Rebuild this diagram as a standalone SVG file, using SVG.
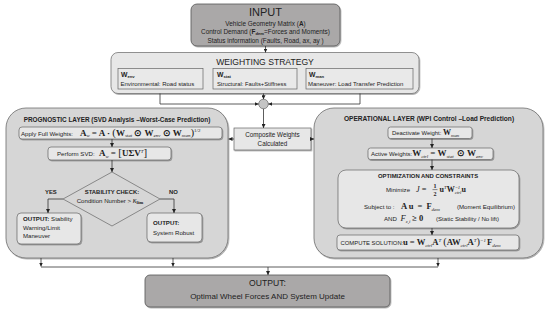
<svg xmlns="http://www.w3.org/2000/svg" width="550" height="312" viewBox="0 0 550 312">
<defs>
<marker id="ah" viewBox="0 0 6 6" refX="6" refY="3" markerWidth="4" markerHeight="4" orient="auto" markerUnits="userSpaceOnUse"><path d="M0,0 L6,3 L0,6 z" fill="#222"/></marker>
<filter id="sh" x="-10%" y="-10%" width="120%" height="130%"><feDropShadow dx="0.8" dy="1" stdDeviation="0.7" flood-color="#000" flood-opacity="0.35"/></filter>
</defs>
<style>
.dark{fill:#aaa8a8;stroke:#555;stroke-width:0.8;filter:url(#sh)}
.panel{fill:#d6d6d6;stroke:#6e6e6e;stroke-width:0.8;filter:url(#sh)}
.light{fill:#e7e7e7;stroke:#666;stroke-width:0.7;filter:url(#sh)}
.inner{fill:#e9e9e9;stroke:#666;stroke-width:0.7}
.t{font-family:"Liberation Sans",Arial,sans-serif;fill:#222}
.b{font-weight:bold}
.mid{text-anchor:middle}
.m{font-family:"Liberation Serif","Times New Roman",serif;font-weight:bold;fill:#222}
.s{font-weight:normal;font-style:italic}
.c{fill:none;stroke:#333;stroke-width:0.8}
.ca{fill:none;stroke:#333;stroke-width:0.8;marker-end:url(#ah)}
</style>
<rect width="550" height="312" fill="#fff"/>

<g id="input">
<rect class="dark" x="191" y="4" width="149" height="42" rx="6"/>
<text class="t mid" x="265.5" y="16" font-size="11">INPUT</text>
<text class="t mid" x="265.5" y="25.5" font-size="6.4">Vehicle Geometry Matrix  (<tspan class="b">A</tspan>)</text>
<text class="t mid" x="265.5" y="34.2" font-size="6.4">Control Demand (<tspan class="b">F<tspan font-size="4.2" dy="1">dem</tspan></tspan><tspan dy="-1">=Forces and Moments)</tspan></text>
<text class="t mid" x="265.5" y="43" font-size="6.4">Status information (Faults, Road, ax, ay )</text>
</g>

<g id="weighting">
<rect class="light" x="111" y="52.5" width="308" height="41" rx="7"/>
<text class="t mid" x="265" y="64.5" font-size="8.6">WEIGHTING STRATEGY</text>
</g>
<g id="w-env">
<rect class="inner" x="118" y="68.5" width="85" height="20.5"/>
<text class="t b" x="121" y="76.5" font-size="6.8">W<tspan font-size="4.2" dy="1">env</tspan></text>
<text class="t" x="120.5" y="86" font-size="6">Environmental: Road status</text>
</g>
<g id="w-stat">
<rect class="inner" x="213" y="68.5" width="84" height="20.5"/>
<text class="t b" x="217" y="76.5" font-size="6.8">W<tspan font-size="4.2" dy="1">stat</tspan></text>
<text class="t" x="217" y="86" font-size="5.8">Structural: Faults+Stiffness</text>
</g>
<g id="w-man">
<rect class="inner" x="306" y="68.5" width="107" height="20.5"/>
<text class="t b" x="309" y="76.5" font-size="6.8">W<tspan font-size="4.2" dy="1">man</tspan></text>
<text class="t" x="308" y="86" font-size="6">Maneuver: Load Transfer Prediction</text>
</g>

<g id="sum">
<circle cx="263.5" cy="104" r="4.8" fill="#c4c4c4" stroke="#666" stroke-width="0.7"/>
</g>

<g id="composite">
<rect class="light" x="234" y="128" width="77" height="22"/>
<text class="t mid" x="272.5" y="137" font-size="6.3">Composite Weights</text>
<text class="t mid" x="272.5" y="146" font-size="6.3">Calculated</text>
</g>

<g id="prognostic">
<rect class="panel" x="6" y="108" width="222" height="150" rx="20"/>
<text class="t b mid" x="117" y="122" font-size="6.4">PROGNOSTIC LAYER (SVD Analysis –Worst-Case Prediction)</text>
</g>
<g id="apply">
<rect class="light" x="19" y="127" width="203" height="12" rx="3"/>
<text class="t" x="21" y="135.7" font-size="6.1">Apply Full Weights:</text>
<text class="m" x="80" y="135.7" font-size="9">A<tspan class="s" font-size="5" dy="1.5">w</tspan><tspan dy="-1.5" dx="2">= A · </tspan><tspan font-size="11" font-weight="normal">(</tspan>W<tspan class="s" font-size="5" dy="1.5">stat</tspan><tspan dy="-1.5"> ⊙ </tspan>W<tspan class="s" font-size="5" dy="1.5">env</tspan><tspan dy="-1.5"> ⊙ </tspan>W<tspan class="s" font-size="5" dy="1.5">man</tspan><tspan dy="-1.5" font-size="11" font-weight="normal">)</tspan><tspan font-size="5" font-weight="normal" dy="-3.8">1/2</tspan></text>
</g>
<g id="svd">
<rect class="light" x="48" y="147" width="123" height="13" rx="3"/>
<text class="t" x="57" y="156.2" font-size="6.1">Perform SVD:</text>
<text class="m" x="99" y="156.2" font-size="9">A<tspan class="s" font-size="5" dy="1.5">w</tspan><tspan dy="-1.5" dx="2">= </tspan><tspan font-size="11" font-weight="normal">[</tspan>UΣV<tspan font-size="5" class="s" dy="-3.4">T</tspan><tspan dy="3.4" font-size="11" font-weight="normal">]</tspan></text>
</g>
<g id="stability">
<polygon points="112,172 160,199 112,226 63,199" fill="#d6d6d6" stroke="#666" stroke-width="0.7"/>
<text class="t b mid" x="112" y="194" font-size="5.9">STABILITY CHECK:</text>
<text class="t mid" x="110" y="203" font-size="6.1">Condition Number &gt; <tspan class="m s" font-size="8">κ</tspan><tspan class="m" font-size="4.8" dy="1">lim</tspan></text>
</g>
<g id="out-warning">
<rect class="light" x="17" y="213" width="64" height="31" rx="4"/>
<text class="t" x="23" y="221" font-size="6.1"><tspan class="b">OUTPUT:</tspan> Stability</text>
<text class="t" x="23" y="229.5" font-size="6.1">Warning/Limit</text>
<text class="t" x="23" y="238" font-size="6.1">Maneuver</text>
</g>
<g id="out-robust">
<rect class="light" x="147" y="213" width="55" height="29" rx="4"/>
<text class="t b" x="153" y="225" font-size="6.1">OUTPUT:</text>
<text class="t" x="153" y="235" font-size="6.1">System Robust</text>
</g>

<g id="operational">
<rect class="panel" x="314" y="108" width="229" height="150" rx="20"/>
<text class="t b mid" x="429" y="121" font-size="6.6">OPERATIONAL LAYER (WPI Control –Load Prediction)</text>
</g>
<g id="deactivate">
<rect class="light" x="388" y="127" width="84" height="11.5" rx="2.5"/>
<text class="t" x="392" y="135.2" font-size="5.9">Deactivate Weight: <tspan class="m" font-size="8">W</tspan><tspan class="m s" font-size="4.8" dy="1.5">man</tspan></text>
</g>
<g id="active">
<rect class="light" x="368" y="148" width="125" height="11.5" rx="2.5"/>
<text class="t" x="371" y="156.3" font-size="6">Active Weights:<tspan class="m" font-size="9">W</tspan><tspan class="m s" font-size="5" dy="1.5">ctrl</tspan><tspan class="m" font-size="9" dy="-1.5" dx="2">= W</tspan><tspan class="m s" font-size="5" dy="1.5">stat</tspan><tspan class="m" font-size="9" dy="-1.5" dx="1"> ⊙ W</tspan><tspan class="m s" font-size="5" dy="1.5">env</tspan></text>
</g>
<g id="optimization">
<rect class="light" x="338" y="170" width="181" height="58" rx="8"/>
<text class="t b mid" x="428" y="178" font-size="5.9">OPTIMIZATION AND CONSTRAINTS</text>
<text class="t" x="386" y="192" font-size="6.1">Minimize</text>
<text class="m" x="416" y="192" font-size="8.3"><tspan class="s">J</tspan> =</text>
<text class="m" x="435" y="188" font-size="6" text-anchor="middle">1</text>
<line x1="432.5" y1="189.6" x2="437.5" y2="189.6" stroke="#222" stroke-width="0.5"/>
<text class="m" x="435" y="195.6" font-size="6" text-anchor="middle">2</text>
<text class="m" x="439.5" y="192" font-size="8">u<tspan class="s" font-size="4.8" dy="-3">T</tspan><tspan dy="3">W</tspan><tspan class="s" font-size="4.8" dy="-3.2">−1</tspan><tspan class="s" font-size="4.8" dx="-5.5" dy="5.5">ctrl</tspan><tspan dy="-2.3">u</tspan></text>
<text class="t" x="364" y="209" font-size="6.1">Subject to :</text>
<text class="m" x="401" y="209" font-size="8.5">A u<tspan dx="4">=</tspan><tspan dx="4">F</tspan><tspan class="s" font-size="5" dy="1.5">dem</tspan></text>
<text class="t" x="457" y="209" font-size="6.1">(Moment Equilibrium)</text>
<text class="t" x="384" y="221" font-size="6.1">AND</text>
<text class="m s" x="400.5" y="221" font-size="8.5">F<tspan font-size="5" dy="1.5">z,i</tspan><tspan font-weight="bold" font-style="normal" dy="-1.5" dx="2">≥ 0</tspan></text>
<text class="t" x="436" y="221" font-size="6.1">(Static Stability / No lift)</text>
</g>
<g id="compute">
<rect class="light" x="337" y="235" width="182" height="15" rx="3"/>
<text class="t" x="340.5" y="245.2" font-size="5.9">COMPUTE SOLUTION:</text>
<text class="m" x="403" y="245.2" font-size="8.6">u<tspan dx="2">=</tspan><tspan dx="2">W</tspan><tspan class="s" font-size="5" dy="1.5">ctrl</tspan><tspan dy="-1.5">A</tspan><tspan class="s" font-size="5" dy="-3.4">T</tspan><tspan font-size="10.5" font-weight="normal" dy="3.4" dx="2">(</tspan><tspan>AW</tspan><tspan class="s" font-size="5" dy="1.5">ctrl</tspan><tspan dy="-1.5">A</tspan><tspan class="s" font-size="5" dy="-3.4">T</tspan><tspan font-size="10.5" font-weight="normal" dy="3.4">)</tspan><tspan class="s" font-size="5" dy="-3.4">−1</tspan><tspan dy="3.4" dx="1">F</tspan><tspan class="s" font-size="5" dy="1.5">dem</tspan></text>
</g>

<g id="output">
<rect class="dark" x="145" y="275" width="245" height="32" rx="5"/>
<text class="t mid" x="267.5" y="285.8" font-size="8.6">OUTPUT:</text>
<text class="t mid" x="267.5" y="298.8" font-size="8">Optimal Wheel Forces AND System Update</text>
</g>

<g id="connectors">
<line class="ca" x1="265.5" y1="46" x2="265.5" y2="52.5"/>
<polyline class="ca" points="160,93.5 160,104 258.7,104"/>
<polyline class="ca" points="360,93.5 360,104 268.3,104"/>
<line class="ca" x1="263.5" y1="93.5" x2="263.5" y2="99.2"/>
<line class="ca" x1="263.5" y1="108.8" x2="263.5" y2="128"/>
<line class="ca" x1="234" y1="139" x2="228.5" y2="139"/>
<line class="ca" x1="311" y1="139" x2="314" y2="139"/>
<line class="ca" x1="112" y1="139" x2="112" y2="147"/>
<line class="ca" x1="112" y1="160" x2="112" y2="172"/>
<polyline class="ca" points="63,199 48,199 48,213"/>
<polyline class="ca" points="160,199 174,199 174,213"/>
<text class="t b" x="45" y="194" font-size="5.9">YES</text>
<text class="t b" x="169" y="194" font-size="5.9">NO</text>
<line class="ca" x1="432" y1="138.5" x2="432" y2="148"/>
<line class="ca" x1="432" y1="159.5" x2="432" y2="170"/>
<line class="ca" x1="432" y1="228" x2="432" y2="235"/>
<line class="ca" x1="41" y1="258" x2="41" y2="266.5"/>
<line class="ca" x1="173" y1="258" x2="173" y2="266.5"/>
<line class="ca" x1="438" y1="258" x2="438" y2="266.5"/>
<line class="c" x1="41" y1="267" x2="438" y2="267"/>
<line class="ca" x1="268" y1="267" x2="268" y2="275"/>
</g>
</svg>
